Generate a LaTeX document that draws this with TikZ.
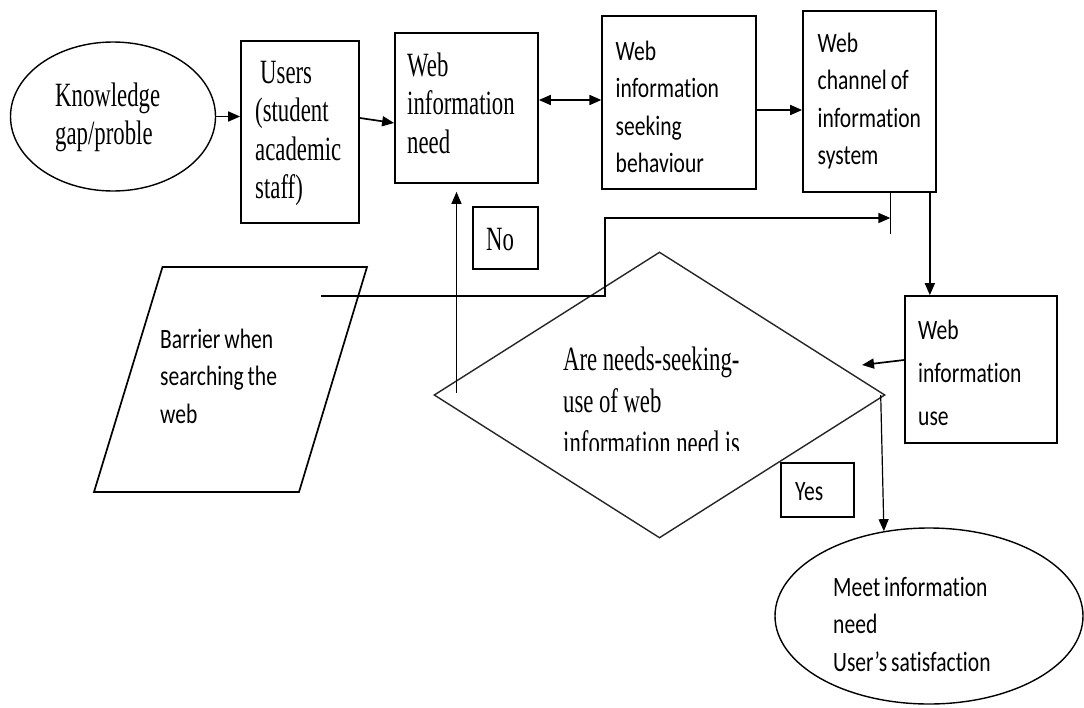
\documentclass[tikz,border=0pt]{standalone}
\usepackage{fontspec}
\newfontfamily\serifn[FakeStretch=0.67]{Liberation Serif}
\newfontfamily\sansn[FakeStretch=0.77,Ligatures=NoCommon]{Carlito}
\usetikzlibrary{shapes.geometric,arrows.meta}
\begin{document}
\begin{tikzpicture}[x=1pt,y=-1pt,
  box/.style={draw, line width=1.7pt, inner sep=0pt},
  ell/.style={draw, ellipse, line width=1.4pt, inner sep=0pt},
  dia/.style={draw=black!85, diamond, line width=1.4pt, inner sep=0pt},
  lbl/.style={anchor=base west, inner sep=0pt, text width=240pt, align=left},
  sertxt/.style={lbl, font=\serifn\fontsize{34}{38.5}\selectfont, execute at begin node={\spaceskip=5.5pt plus 1pt\relax}},
  santxt/.style={lbl, font=\sansn\fontsize{28}{37.5}\selectfont, execute at begin node={\spaceskip=4pt plus 1pt\relax}},
  arr/.style={line width=1.7pt, -{Triangle[length=12pt,width=10pt]}},
]
\useasboundingbox[fill=white] (0,0) rectangle (1084,707);

% shapes
\node[ell, minimum width=205pt, minimum height=149pt] (kg) at (113,116.5) {};
\node[box, minimum width=118pt, minimum height=182pt] (users) at (300,132) {};
\node[box, minimum width=143pt, minimum height=150pt] (need) at (466.5,108) {};
\node[box, minimum width=153.5pt, minimum height=173pt] (seek) at (679,102.5) {};
\node[box, minimum width=133pt, minimum height=181pt] (chan) at (869.5,101.5) {};
\node[box, minimum width=65pt, minimum height=62pt] (no) at (505.5,238) {};
\node[box, minimum width=152pt, minimum height=147pt] (use) at (981,369.5) {};
\node[box, minimum width=73pt, minimum height=54pt] (yes) at (817.5,490) {};
\node[dia, minimum width=451pt, minimum height=286pt] (dec) at (659.5,395) {};
\node[ell, minimum width=308pt, minimum height=176pt] (meet) at (929,616) {};
\draw[line width=1.7pt] (162.5,267) -- (367,267) -- (299,492) -- (94,492) -- cycle;

% texts
\node[sertxt] (kgt) at (55,106) {Knowledge\\gap/proble};
\node[sertxt] (userst) at (255,83) {\hspace*{5pt}Users\\(student\\academic\\staff)};
\node[sertxt] (needt) at (407,76) {Web\\information\\need};
\node[santxt] (seekt) at (615.5,60) {Web\\information\\seeking\\behaviour};
\node[santxt] (chant) at (817.5,52) {Web\\channel of\\information\\system};
\node[sertxt] (not) at (486,250) {No};
\node[santxt] (bart) at (160,348) {Barrier when\\searching the\\web};
\node[santxt, font=\sansn\fontsize{28}{43}\selectfont] (uset) at (918,339) {Web\\information\\use};
\node[santxt] (yest) at (795,500) {Yes};
\node[santxt] (meett) at (833,596) {Meet information\\need\\User’s satisfaction};
\begin{scope}
  \clip (540,330) rectangle (830,450);
  \node[sertxt, font=\serifn\fontsize{34}{42}\selectfont] (dect) at (563,370) {Are needs-seeking-\\use of web\\information need is};
\end{scope}

% connectors
\draw[arr] (kg.east) -- (kg.east -| users.west);
\draw[arr] ([yshift=14pt]users.east) -- ([yshift=-15pt]need.west);
\draw[line width=1.7pt, {Triangle[length=12pt,width=10pt]}-{Triangle[length=12pt,width=10pt]}] ([yshift=8pt]need.east) -- ([yshift=8pt]need.east -| seek.west);
\draw[arr] ([yshift=-7.5pt]seek.east) -- ([yshift=-7.5pt]seek.east -| chan.west);
\draw[arr] ([xshift=-7pt]chan.south east) -- ([xshift=-7pt]chan.south east |- use.north);
\coordinate (usetip) at (862,365);
\draw[arr] ([yshift=9.5pt]use.west) -- (usetip);
\draw[arr, line width=1.2pt] ([xshift=-5pt]dec.east) -- (meet.118);
\coordinate (nostart) at (456.5,393);
\draw[arr, line width=1.2pt, shorten >=8pt] (nostart) -- (nostart |- need.south);
\coordinate (tick) at ([xshift=-46.5pt]chan.south east);
\draw[line width=1.7pt] (tick) -- ++(0,41);
\coordinate (bstart) at (321,296);
\coordinate (bend) at (605,218);
\draw[arr] (bstart) -| (bend) -- (bend -| tick);
\end{tikzpicture}
\end{document}
